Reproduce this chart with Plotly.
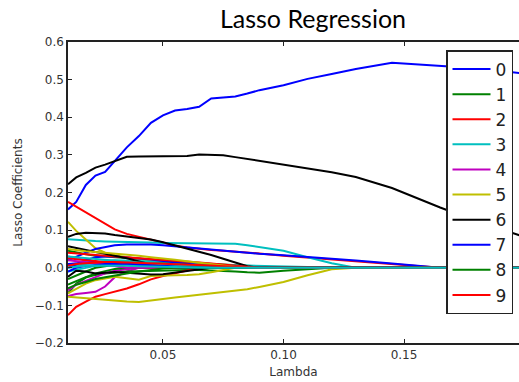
import plotly.graph_objects as go

# Lambda grid (x values)
lambdas = [0.0106, 0.014, 0.018, 0.022, 0.026, 0.03, 0.035, 0.04, 0.045, 0.05, 0.055, 0.06,
           0.065, 0.07, 0.075, 0.08, 0.085, 0.09, 0.1, 0.11, 0.12, 0.13, 0.145, 0.165, 0.18, 0.2]

# Coefficient paths, one list per feature
coef_0 = [0.155, 0.175, 0.22, 0.245, 0.255, 0.285, 0.32, 0.35, 0.385, 0.405, 0.418, 0.422, 0.428, 0.45, 0.452, 0.455, 0.463, 0.472, 0.485, 0.502, 0.515, 0.528, 0.545, 0.537, 0.53, 0.516]
coef_1 = [0.045, 0.04, 0.036, 0.032, 0.03, 0.028, 0.025, 0.022, 0.02, 0.018, 0.016, 0.014, 0.012, 0.01, 0.008, 0.006, 0.004, 0.002, 0, 0, 0, 0, 0, 0, 0, 0]
coef_2 = [0.175, 0.162, 0.149, 0.132, 0.118, 0.102, 0.09, 0.082, 0.076, 0.067, 0.059, 0.054, 0.05, 0.047, 0.045, 0.043, 0.041, 0.038, 0.032, 0.027, 0.022, 0.016, 0.008, 0, 0, 0]
coef_3 = [0.076, 0.074, 0.072, 0.071, 0.07, 0.069, 0.068, 0.067, 0.067, 0.066, 0.066, 0.066, 0.066, 0.066, 0.065, 0.064, 0.06, 0.055, 0.045, 0.028, 0.012, 0, 0, 0, 0, 0]
coef_4 = [-0.075, -0.07, -0.067, -0.064, -0.05, -0.025, -0.01, 0, 0, 0, 0, 0, 0, 0, 0, 0, 0, 0, 0, 0, 0, 0, 0, 0, 0, 0]
coef_5 = [0.122, 0.098, 0.075, 0.052, 0.04, 0.033, 0.028, 0.024, 0.02, 0.016, 0.012, 0.008, 0.004, 0, 0, 0, 0, 0, 0, 0, 0, 0, 0, 0, 0, 0]
coef_6 = [0.222, 0.24, 0.252, 0.266, 0.274, 0.284, 0.295, 0.296, 0.296, 0.296, 0.296, 0.297, 0.301, 0.301, 0.299, 0.294, 0.289, 0.284, 0.275, 0.264, 0.254, 0.241, 0.212, 0.16, 0.124, 0.082]
coef_7 = [0.02, 0.03, 0.04, 0.05, 0.056, 0.06, 0.062, 0.063, 0.062, 0.06, 0.057, 0.054, 0.051, 0.048, 0.045, 0.042, 0.039, 0.037, 0.033, 0.029, 0.024, 0.019, 0.011, 0, 0, 0]
coef_8 = [-0.068, -0.042, -0.026, -0.019, -0.015, -0.012, -0.01, -0.009, -0.008, -0.007, -0.006, -0.006, -0.006, -0.007, -0.008, -0.01, -0.012, -0.013, -0.008, -0.003, 0, 0, 0, 0, 0, 0]
coef_9 = [-0.126, -0.104, -0.09, -0.077, -0.07, -0.064, -0.055, -0.044, -0.031, -0.022, -0.015, -0.008, 0, 0, 0, 0, 0, 0, 0, 0, 0, 0, 0, 0, 0, 0]
coef_10 = [0.01, 0.005, 0.01, 0.015, 0.018, 0.02, 0.02, 0.018, 0.016, 0.014, 0.012, 0.01, 0.009, 0.008, 0.007, 0.006, 0.005, 0.004, 0.003, 0.002, 0.001, 0, 0, 0, 0, 0]
coef_11 = [0.03, 0.025, 0.02, 0.015, 0.01, 0.005, 0, 0, 0, 0, 0, 0, 0, 0, 0, 0, 0, 0, 0, 0, 0, 0, 0, 0, 0, 0]
coef_12 = [-0.077, -0.079, -0.081, -0.084, -0.086, -0.088, -0.09, -0.091, -0.088, -0.083, -0.079, -0.075, -0.071, -0.068, -0.065, -0.061, -0.057, -0.051, -0.038, -0.02, -0.004, 0, 0, 0, 0, 0]
coef_13 = [0.082, 0.09, 0.093, 0.093, 0.091, 0.087, 0.083, 0.079, 0.075, 0.068, 0.06, 0.052, 0.044, 0.034, 0.024, 0.013, 0.004, 0, 0, 0, 0, 0, 0, 0, 0, 0]
coef_14 = [0.0, 0.01, 0.02, 0.028, 0.03, 0.03, 0.028, 0.025, 0.022, 0.018, 0.014, 0.01, 0.006, 0.003, 0, 0, 0, 0, 0, 0, 0, 0, 0, 0, 0, 0]
coef_15 = [-0.03, -0.02, -0.01, 0.0, 0.005, 0.008, 0.01, 0.012, 0.012, 0.011, 0.01, 0.008, 0.006, 0.004, 0.002, 0, 0, 0, 0, 0, 0, 0, 0, 0, 0, 0]
coef_16 = [0.04, 0.038, 0.035, 0.033, 0.032, 0.03, 0.028, 0.026, 0.024, 0.022, 0.02, 0.017, 0.014, 0.011, 0.008, 0.005, 0.002, 0, 0, 0, 0, 0, 0, 0, 0, 0]
coef_17 = [-0.01, -0.005, 0.0, 0.005, 0.008, 0.01, 0.01, 0.009, 0.008, 0.007, 0.006, 0.005, 0.004, 0.003, 0.002, 0.001, 0, 0, 0, 0, 0, 0, 0, 0, 0, 0]
coef_18 = [-0.06, -0.045, -0.035, -0.025, -0.015, -0.008, -0.003, 0, 0, 0, 0, 0, 0, 0, 0, 0, 0, 0, 0, 0, 0, 0, 0, 0, 0, 0]
coef_19 = [-0.068, -0.055, -0.042, -0.033, -0.028, -0.024, -0.028, -0.032, -0.022, -0.02, -0.02, -0.019, -0.017, -0.012, -0.006, 0, 0, 0, 0, 0, 0, 0, 0, 0, 0, 0]
coef_20 = [0.057, 0.052, 0.047, 0.042, 0.037, 0.032, 0.025, 0.017, 0.009, 0.002, 0, 0, 0, 0, 0, 0, 0, 0, 0, 0, 0, 0, 0, 0, 0, 0]
coef_21 = [0.01, 0.012, 0.015, 0.016, 0.015, 0.013, 0.011, 0.009, 0.007, 0.005, 0.003, 0.001, 0, 0, 0, 0, 0, 0, 0, 0, 0, 0, 0, 0, 0, 0]
coef_22 = [-0.045, -0.035, -0.025, -0.015, -0.008, -0.003, 0, 0, 0, 0, 0, 0, 0, 0, 0, 0, 0, 0, 0, 0, 0, 0, 0, 0, 0, 0]
coef_23 = [0.025, 0.022, 0.02, 0.018, 0.015, 0.012, 0.008, 0.004, 0, 0, 0, 0, 0, 0, 0, 0, 0, 0, 0, 0, 0, 0, 0, 0, 0, 0]
coef_24 = [0.03, 0.028, 0.025, 0.022, 0.02, 0.018, 0.016, 0.014, 0.012, 0.01, 0.008, 0.006, 0.005, 0.004, 0.003, 0.002, 0.001, 0, 0, 0, 0, 0, 0, 0, 0, 0]
coef_25 = [0.02, 0.018, 0.015, 0.012, 0.008, 0.004, 0, 0, 0, 0, 0, 0, 0, 0, 0, 0, 0, 0, 0, 0, 0, 0, 0, 0, 0, 0]
coef_26 = [0.05, 0.047, 0.044, 0.042, 0.04, 0.038, 0.035, 0.032, 0.028, 0.025, 0.021, 0.017, 0.013, 0.009, 0.005, 0.002, 0, 0, 0, 0, 0, 0, 0, 0, 0, 0]
coef_27 = [-0.024, -0.008, -0.01, -0.015, -0.013, -0.011, -0.013, -0.016, -0.018, -0.017, -0.013, -0.008, -0.004, 0, 0, 0, 0, 0, 0, 0, 0, 0, 0, 0, 0, 0]
coef_28 = [-0.01, 0.0, 0.005, 0.008, 0.01, 0.01, 0.008, 0.006, 0.004, 0.002, 0, 0, 0, 0, 0, 0, 0, 0, 0, 0, 0, 0, 0, 0, 0, 0]
coef_29 = [-0.055, -0.045, -0.038, -0.03, -0.025, -0.02, -0.015, -0.01, -0.005, -0.002, 0, 0, 0, 0, 0, 0, 0, 0, 0, 0, 0, 0, 0, 0, 0, 0]
coef_30 = [0.005, 0.01, 0.012, 0.014, 0.015, 0.015, 0.014, 0.013, 0.012, 0.011, 0.01, 0.009, 0.008, 0.006, 0.004, 0.002, 0, 0, 0, 0, 0, 0, 0, 0, 0, 0]
coef_31 = [0.0, 0.003, 0.005, 0.006, 0.006, 0.006, 0.005, 0.004, 0.003, 0.002, 0.001, 0, 0, 0, 0, 0, 0, 0, 0, 0, 0, 0, 0, 0, 0, 0]

coefs = [coef_0, coef_1, coef_2, coef_3, coef_4, coef_5, coef_6, coef_7, coef_8, coef_9,
         coef_10, coef_11, coef_12, coef_13, coef_14, coef_15, coef_16, coef_17, coef_18, coef_19,
         coef_20, coef_21, coef_22, coef_23, coef_24, coef_25, coef_26, coef_27, coef_28, coef_29,
         coef_30, coef_31]

legend_count = 10
color_cycle = ["#0000ff", "#008000", "#ff0000", "#00bfbf", "#bf00bf", "#bfbf00", "#000000"]

x_ticks = [0.05, 0.10, 0.15]
x_tick_labels = ["0.05", "0.10", "0.15"]
y_ticks = [-0.2, -0.1, 0.0, 0.1, 0.2, 0.3, 0.4, 0.5, 0.6]
y_tick_labels = ["\u22120.2", "\u22120.1", "0.0", "0.1", "0.2", "0.3", "0.4", "0.5", "0.6"]

fig = go.Figure()
for i, c in enumerate(coefs):
    fig.add_trace(go.Scatter(
        x=lambdas, y=c, mode="lines", name=str(i),
        line=dict(color=color_cycle[i % len(color_cycle)], width=2),
        showlegend=i < legend_count,
    ))

axis_font = dict(family="DejaVu Sans", size=12, color="#333333")
fig.update_layout(
    width=519, height=382,
    margin=dict(l=68, r=0, t=42, b=39),
    paper_bgcolor="white", plot_bgcolor="white",
    showlegend=True,
    title=dict(text="Lasso Regression", x=313 / 519, xanchor="center", xref="container",
               y=1 - 19 / 382, yanchor="middle", yref="container",
               font=dict(family="Lato", size=25, color="#000000")),
    legend=dict(x=(513 - 68) / 451, xanchor="right", y=(343 - 50) / 301, yanchor="top",
                bgcolor="white", bordercolor="#222222", borderwidth=1.5,
                font=dict(family="DejaVu Sans", size=17, color="#222222"),
                itemwidth=38, tracegroupgap=0),
    xaxis=dict(range=[0.0106, 0.1977], tickvals=x_ticks, ticktext=x_tick_labels,
               showgrid=False, zeroline=False, showline=True, linecolor="#222222", linewidth=1.5,
               mirror="ticks", ticks="inside", ticklen=4, tickcolor="#222222",
               tickfont=axis_font,
               title=dict(text="Lambda", font=axis_font, standoff=6)),
    yaxis=dict(range=[-0.2, 0.6], tickvals=y_ticks, ticktext=y_tick_labels,
               showgrid=False, zeroline=False, showline=True, linecolor="#222222", linewidth=1.5,
               ticks="inside", ticklen=4, tickcolor="#222222",
               tickfont=axis_font,
               title=dict(text="Lasso Coefficients", font=axis_font, standoff=10)),
)

fig.write_html("out.html")
